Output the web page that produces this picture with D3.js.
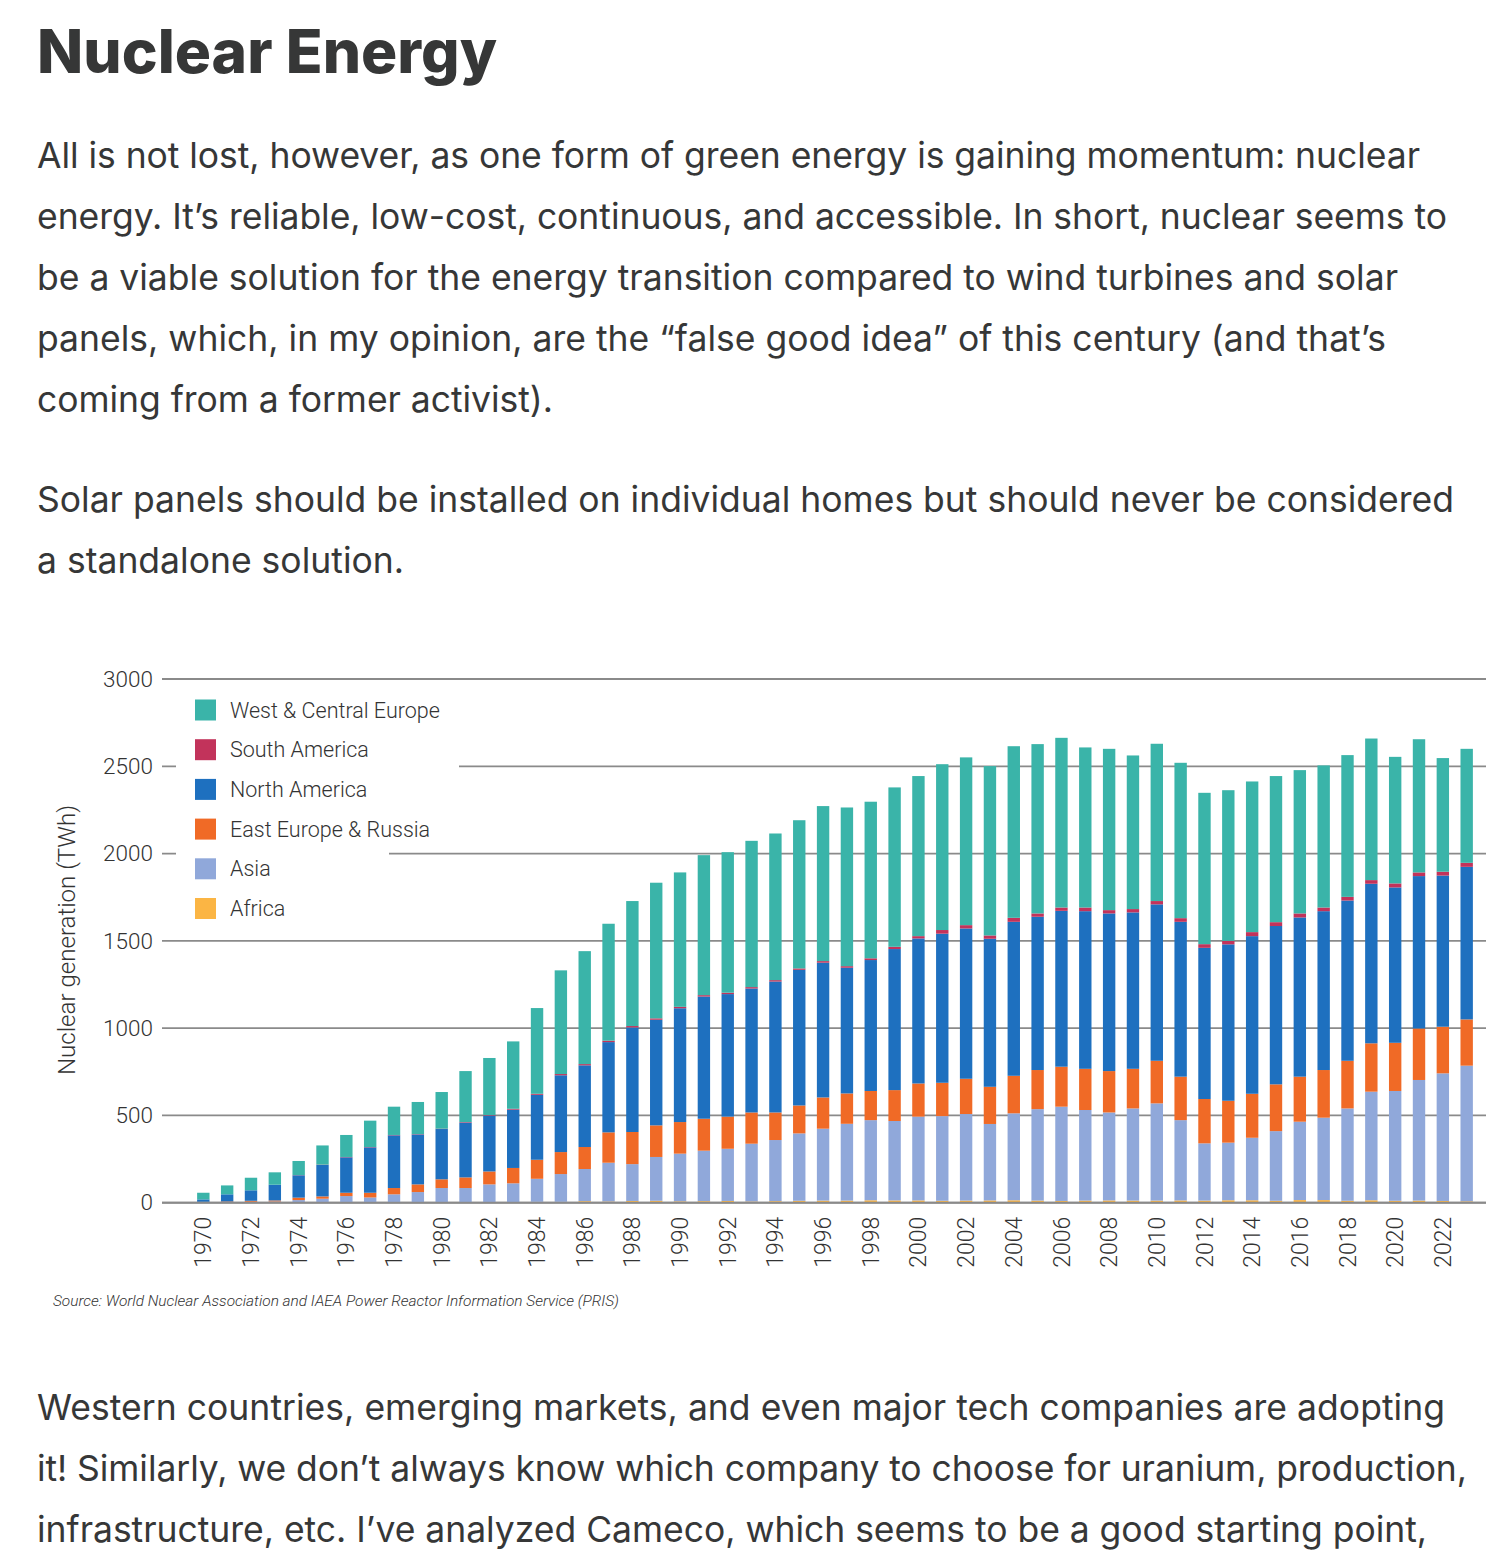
<!DOCTYPE html>
<html><head><meta charset="utf-8">
<script src="https://cdn.jsdelivr.net/npm/d3@7"></script>
<style>html,body{margin:0;padding:0;background:#fff;} svg{display:block;}</style>
</head><body>
<svg id="c" width="1494" height="1566"></svg>
<script>
const years = d3.range(1970, 2024);
const africa = [0,0,0,0,0,0,0,0,0,0,0,0,0,0,5,5,9,7,10,11,8,9,10,7,9,11,12,12,14,13,13,11,12,13,14,12,10,12,13,12,12,13,12,14,14,11,15,15,11,14,11,12,10,8];
const asia = [2,3,5,7,15,23,38,30,48,61,84,84,105,111,132,159,184,222,211,251,273,289,299,331,350,386,412,440,459,455,480,485,496,438,498,524,540,519,504,528,557,460,328,330,358,399,449,472,529,622,629,691,731,777];
const eastEuropeRussia = [3,4,6,6,14,13,19,27,36,44,50,61,74,88,109,126,126,174,184,181,181,183,184,179,158,160,179,174,167,177,190,191,202,213,215,224,229,236,237,227,244,249,254,240,252,268,258,273,273,277,276,295,267,265];
const northAmerica = [14,41,60,90,128,180,203,260,302,286,288,314,320,334,372,440,468,517,599,605,652,700,702,710,750,777,772,720,750,808,831,854,861,848,882,878,893,903,903,896,896,887,866,896,903,907,912,910,918,914,890,873,866,874];
const southAmerica = [0,0,0,0,1,2,2,2,2,2,2,3,3,5,6,7,7,8,8,8,8,8,8,8,8,8,9,9,10,13,13,21,19,19,23,19,19,21,19,19,19,21,21,20,23,22,23,21,21,21,23,21,22,23];
const westCentralEurope = [38,51,72,71,81,110,126,151,162,184,210,292,327,386,491,594,647,670,716,777,770,802,805,838,840,849,888,909,897,913,917,950,961,970,983,970,972,917,924,880,901,890,867,863,863,837,821,814,812,811,725,763,651,653];

const seriesNames = ["Africa","Asia","East Europe & Russia","North America","South America","West & Central Europe"];
const seriesColors = ["#fbb544","#90a8da","#f06a26","#1e70bf","#c2335b","#3ab4a9"];
const yTickValues = [0,500,1000,1500,2000,2500,3000];
const xTickYears = years.filter(y => y % 2 === 0);

const titleText = "Nuclear Energy";
const paragraphs = [
  ["All is not lost, however, as one form of green energy is gaining momentum: nuclear",
   "energy. It\u2019s reliable, low-cost, continuous, and accessible. In short, nuclear seems to",
   "be a viable solution for the energy transition compared to wind turbines and solar",
   "panels, which, in my opinion, are the \u201cfalse good idea\u201d of this century (and that\u2019s",
   "coming from a former activist)."],
  ["Solar panels should be installed on individual homes but should never be considered",
   "a standalone solution."],
  ["Western countries, emerging markets, and even major tech companies are adopting",
   "it! Similarly, we don\u2019t always know which company to choose for uranium, production,",
   "infrastructure, etc. I\u2019ve analyzed Cameco, which seems to be a good starting point,"]
];
const lineEnds = [[1420,1447,1398,1386,553],[1454,404],[1445,1467,1427]];
const paraTop = [168, 512, 1420];
const sourceText = "Source: World Nuclear Association and IAEA Power Reactor Information Service (PRIS)";
const yAxisTitle = "Nuclear generation (TWh)";

const svg = d3.select("#c");
const textColor = "#363737";
const chartFont = "Roboto, 'Liberation Sans', sans-serif";

// Title
svg.append("text").attr("x", 37).attr("y", 73)
  .attr("font-family", "Inter, sans-serif").attr("font-weight", 800)
  .attr("font-size", 60).attr("fill", textColor)
  .attr("textLength", 460).attr("lengthAdjust", "spacingAndGlyphs")
  .text(titleText);

// Body paragraphs
paragraphs.forEach((lines, pi) => {
  lines.forEach((ln, li) => {
    svg.append("text").attr("x", 37).attr("y", paraTop[pi] + li * 61)
      .attr("font-family", "Inter, sans-serif").attr("font-weight", 400)
      .attr("font-size", 35.5).attr("fill", textColor)
      .attr("textLength", lineEnds[pi][li] - 37).attr("lengthAdjust", "spacing")
      .text(ln);
  });
});

// Chart
const rows = years.map((y, i) => ({
  year: y,
  "Africa": africa[i], "Asia": asia[i], "East Europe & Russia": eastEuropeRussia[i],
  "North America": northAmerica[i], "South America": southAmerica[i],
  "West & Central Europe": westCentralEurope[i]
}));
const stacked = d3.stack().keys(seriesNames)(rows);

const x = d3.scaleBand().domain(years).range([191.4, 1478.6]).paddingInner(0.48).paddingOuter(0.24);
const y = d3.scaleLinear().domain([0, 3000]).range([1202.7, 679]);
const gridLeft = 162, gridRight = 1486;

// gridlines
const grid = svg.append("g");
grid.selectAll("line").data(yTickValues).join("line")
  .attr("x1", gridLeft).attr("x2", gridRight)
  .attr("y1", d => y(d)).attr("y2", d => y(d))
  .attr("stroke", "#8a8a8a").attr("stroke-width", 1.8);

// legend background gaps (cover gridlines)
svg.append("rect").attr("x", 176).attr("y", y(2500) - 3).attr("width", 459 - 176).attr("height", 6).attr("fill", "#fff");
svg.append("rect").attr("x", 176).attr("y", y(2000) - 3).attr("width", 389 - 176).attr("height", 6).attr("fill", "#fff");

// y tick labels
const yAxis = d3.axisLeft(y).tickValues(yTickValues).tickFormat(d3.format("d")).tickSize(0).tickPadding(0);
const ya = svg.append("g").attr("transform", "translate(153,0)").call(yAxis);
ya.select(".domain").remove();
ya.selectAll("text").attr("font-family", chartFont).attr("font-weight", 300)
  .attr("font-size", 22.5).attr("fill", "#333");

// bars
svg.append("g").selectAll("g").data(stacked).join("g")
  .attr("fill", (d, i) => seriesColors[i])
  .selectAll("rect").data(d => d).join("rect")
  .attr("x", d => x(d.data.year)).attr("width", x.bandwidth())
  .attr("y", d => y(d[1])).attr("height", d => Math.max(0, y(d[0]) - y(d[1])));

// baseline redraw
svg.append("line").attr("x1", gridLeft).attr("x2", gridRight).attr("y1", y(0)).attr("y2", y(0))
  .attr("stroke", "#8a8a8a").attr("stroke-width", 2);

// x axis labels
const xAxis = d3.axisBottom(x).tickValues(xTickYears).tickSize(0).tickPadding(0);
const xa = svg.append("g").attr("transform", `translate(0,${y(0)})`).call(xAxis);
xa.select(".domain").remove();
xa.selectAll("text")
  .attr("font-family", chartFont).attr("font-weight", 300).attr("font-size", 23).attr("fill", "#333")
  .attr("transform", "translate(0,14) rotate(-90)")
  .attr("text-anchor", "end").attr("dy", "0.35em").attr("x", 0).attr("y", 0);

// y axis title
svg.append("text").attr("transform", "translate(67,940) rotate(-90)")
  .attr("text-anchor", "middle").attr("dy", "0.35em")
  .attr("font-family", chartFont).attr("font-weight", 300).attr("font-size", 23).attr("fill", "#333")
  .attr("textLength", 270).attr("lengthAdjust", "spacingAndGlyphs")
  .text(yAxisTitle);

// legend
const legendOrder = seriesNames.map((n, i) => ({ name: n, color: seriesColors[i] })).reverse();
const lg = svg.append("g").selectAll("g").data(legendOrder).join("g")
  .attr("transform", (d, i) => `translate(195,${710 + i * 39.7})`);
lg.append("rect").attr("x", 0).attr("y", -10.5).attr("width", 21).attr("height", 21).attr("fill", d => d.color);
lg.append("text").attr("x", 35).attr("y", 0).attr("dy", "0.35em")
  .attr("font-family", chartFont).attr("font-weight", 300).attr("font-size", 21.5).attr("fill", "#333")
  .text(d => d.name);

// source
svg.append("text").attr("x", 53).attr("y", 1306)
  .attr("font-family", chartFont).attr("font-weight", 300).attr("font-style", "italic")
  .attr("font-size", 14.5).attr("fill", "#333")
  .attr("textLength", 566).attr("lengthAdjust", "spacingAndGlyphs")
  .text(sourceText);
</script>
</body></html>
